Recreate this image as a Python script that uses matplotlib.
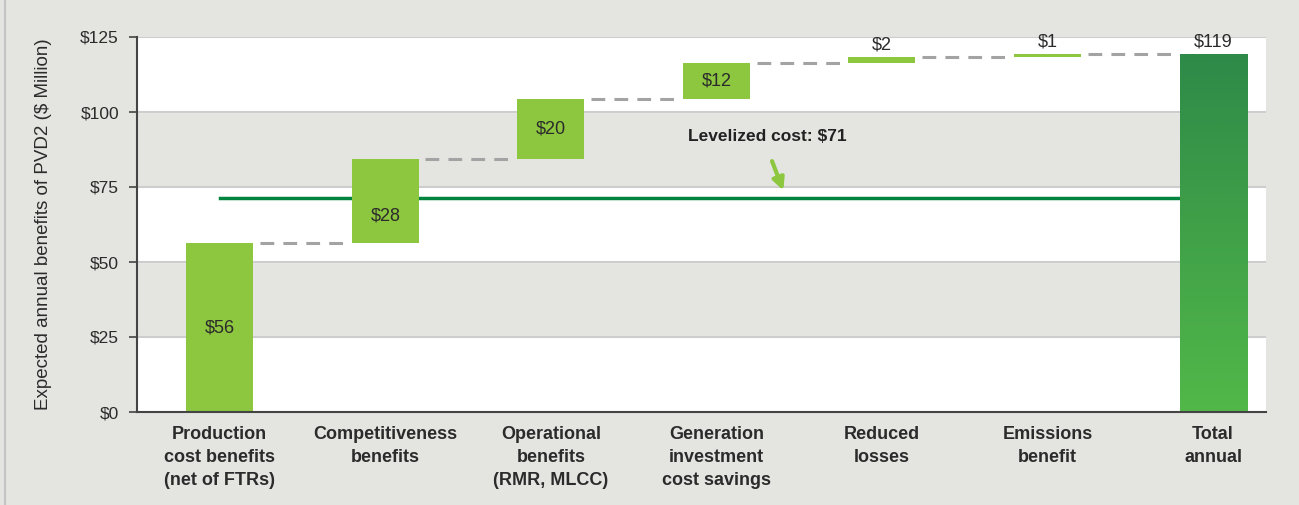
import numpy as np
import matplotlib.pyplot as plt
from matplotlib.lines import Line2D
from matplotlib.colors import LinearSegmentedColormap

categories = ['Production\ncost benefits\n(net of FTRs)', 'Competitiveness\nbenefits',
              'Operational\nbenefits\n(RMR, MLCC)', 'Generation\ninvestment\ncost savings',
              'Reduced\nlosses', 'Emissions\nbenefit', 'Total\nannual']
steps = [56.3, 27.9, 20.1, 12.0, 1.9, 1.1]
step_labels = ['$56', '$28', '$20', '$12', '$2', '$1']
total_label = '$119'
levelized = 71.4
yticks = [0, 25, 50, 75, 100, 125]

plt.rcParams['font.family'] = ['Liberation Sans Narrow', 'Liberation Sans', 'DejaVu Sans']

bg = '#e4e5e1'
light_green = '#8dc63f'
dark_green = '#00843d'
text_col = '#2b2b2b'

fig = plt.figure(figsize=(12.99, 5.05), dpi=100, facecolor=bg)
ax = fig.add_axes([137/1299, 1 - 412/505, (1266 - 137)/1299, (412 - 37)/505])
ax.set_facecolor(bg)
fig.add_artist(Line2D([5/1299, 5/1299], [0, 1], color='#c4c4c4', lw=1.5))

# white bands and grid
for lo in [0, 50, 100]:
    ax.axhspan(lo, lo + 25, color='white', zorder=0)
for y in yticks[1:]:
    ax.axhline(y, color='#cdcdcd', lw=1.5, zorder=0.5)

w = 0.405
n = len(steps)
x = np.arange(n + 1)
bottoms = np.concatenate([[0], np.cumsum(steps)[:-1]])
tops = np.cumsum(steps)
total = tops[-1]

# levelized cost line
ax.plot([0, n - w / 2], [levelized, levelized], color=dark_green, lw=2.5, zorder=1)

ax.bar(x[:n], steps, bottom=bottoms, width=w, color=light_green, zorder=2)

# connectors
for i in range(n):
    ax.plot([x[i] + w / 2 + 0.04, x[i + 1] - w / 2 - 0.04], [tops[i], tops[i]],
            color='#a3a3a3', lw=2.2, dashes=(4.5, 3), zorder=1.5)

# total bar with gradient
grad = np.linspace(0, 1, 256).reshape(-1, 1)
cmap = LinearSegmentedColormap.from_list('g', ['#52b848', '#2e8a48'])
ax.imshow(grad, extent=[x[n] - w / 2, x[n] + w / 2, 0, total], origin='lower',
          cmap=cmap, aspect='auto', zorder=2)

# value labels
for i in range(n):
    if steps[i] > 5:
        yl = bottoms[i] + steps[i] / 2
        if abs(yl - levelized) < 4:
            yl -= 5
        ax.text(x[i], yl, step_labels[i], ha='center', va='center', fontsize=13, color=text_col, zorder=3)
    else:
        ax.text(x[i], tops[i] + 1.2, step_labels[i], ha='center', va='bottom', fontsize=13, color=text_col, zorder=3)
ax.text(x[n], total + 1.2, total_label, ha='center', va='bottom', fontsize=13, color=text_col, zorder=3)

ax.text(3.31, 91.7, 'Levelized cost: $71', ha='center', va='center', fontsize=12.5,
        fontweight='bold', color='#222222')
ax.annotate('', xy=(3.41, 73.0), xytext=(3.33, 84.5),
            arrowprops=dict(arrowstyle='-|>,head_width=0.35,head_length=0.7', color=light_green, lw=3))

ax.set_xlim(-0.5, 6.32)
ax.set_ylim(0, 125)
ax.set_yticks(yticks)
ax.set_yticklabels(['$' + str(v) for v in yticks], fontsize=12.5, color=text_col)
ax.set_xticks(x)
ax.set_xticklabels(categories, fontsize=13, fontweight='bold', color=text_col, linespacing=1.45,
                   va='top')
ax.tick_params(axis='x', length=0, pad=10)
ax.tick_params(axis='y', length=6, width=1.2, color='#444444', pad=7)
for s in ['top', 'right']:
    ax.spines[s].set_visible(False)
for s in ['left', 'bottom']:
    ax.spines[s].set_color('#444444')
    ax.spines[s].set_linewidth(1.5)
ax.spines['bottom'].set_zorder(4)
ax.set_ylabel('Expected annual benefits of PVD2 ($ Million)', fontsize=13.5, color=text_col, labelpad=20)

fig.savefig('out.png', dpi=100, facecolor=bg)
